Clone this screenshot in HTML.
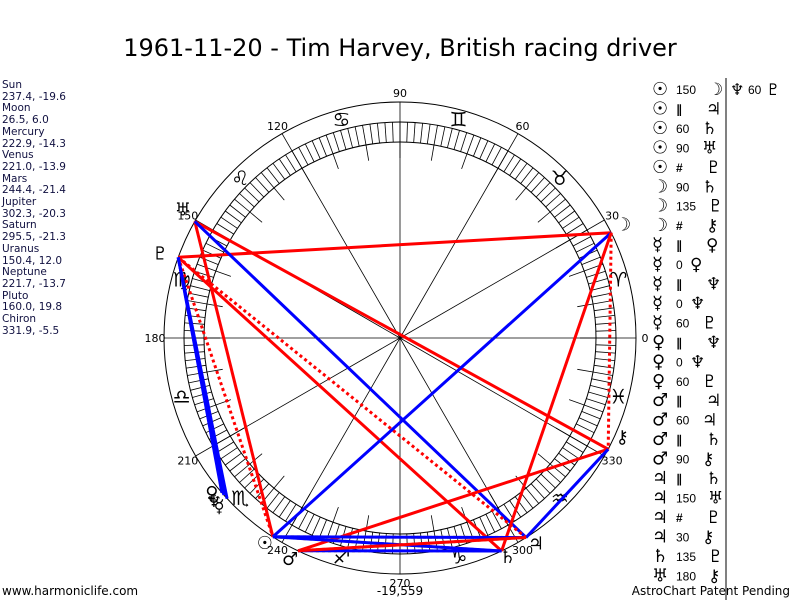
<!DOCTYPE html>
<html><head><meta charset="utf-8">
<style>
body{margin:0;background:#fff;width:800px;height:600px;overflow:hidden;position:relative;font-family:"Liberation Sans","DejaVu Sans",sans-serif}
#left{position:absolute;left:2px;top:80px;font-family:"DejaVu Sans",sans-serif;font-size:10.5px;line-height:11.7px;color:#101040}
</style></head><body>
<svg id="s" width="800" height="600" style="position:absolute;left:0;top:0" xmlns="http://www.w3.org/2000/svg" font-family="Liberation Sans, DejaVu Sans, sans-serif">
<text x="400" y="56" font-size="24" text-anchor="middle" font-family="DejaVu Sans">1961-11-20 - Tim Harvey, British racing driver</text>
<g id="g"></g>
<line x1="726" y1="78" x2="726" y2="600" stroke="#000" stroke-width="1"/>
<text x="2" y="595" font-size="12" font-family="DejaVu Sans">www.harmoniclife.com</text>
<text x="400" y="595" font-size="12" text-anchor="middle" font-family="DejaVu Sans">-19,559</text>
<text x="790" y="595" font-size="12" text-anchor="end" font-family="DejaVu Sans">AstroChart Patent Pending</text>
</svg>
<div id="left">Sun<br>237.4, -19.6<br>Moon<br>26.5, 6.0<br>Mercury<br>222.9, -14.3<br>Venus<br>221.0, -13.9<br>Mars<br>244.4, -21.4<br>Jupiter<br>302.3, -20.3<br>Saturn<br>295.5, -21.3<br>Uranus<br>150.4, 12.0<br>Neptune<br>221.7, -13.7<br>Pluto<br>160.0, 19.8<br>Chiron<br>331.9, -5.5</div>
<script>
var cx=400,cy=338,h='';
function P(a,r){a=a*Math.PI/180;return [cx+r*Math.cos(a),cy-r*Math.sin(a)];}
function L(a,b,c,w,d){h+='<line x1="'+a[0].toFixed(1)+'" y1="'+a[1].toFixed(1)+'" x2="'+b[0].toFixed(1)+'" y2="'+b[1].toFixed(1)+'" stroke="'+c+'" stroke-width="'+w+'"'+(d?' stroke-dasharray="'+d+'"':'')+'/>';}
h+='<circle cx="400" cy="338" r="236" fill="none" stroke="#000"/><circle cx="400" cy="338" r="216" fill="none" stroke="#000"/><circle cx="400" cy="338" r="196" fill="none" stroke="#000"/>';
for(var a=0;a<360;a+=2)L(P(a,196),P(a,216),'#000',0.8);
for(var a=0;a<360;a+=10)L(P(a,180),P(a,196),'#000',0.8);
for(var a=0;a<360;a+=30)L(P(a,0),P(a,236),'#000',0.8);
for(var a=0;a<360;a+=30){var p=P(a,245);h+='<text x="'+p[0]+'" y="'+(p[1]+4)+'" font-size="11" text-anchor="middle" font-family="DejaVu Sans">'+a+'</text>';}
var z='♈♉♊♋♌♍♎♏♐♑♒♓';
for(var i=0;i<12;i++){var p=P(i*30+15,226);h+='<text x="'+p[0]+'" y="'+(p[1]+7)+'" font-size="20" text-anchor="middle" font-family="DejaVu Sans">'+z[i]+'</text>';}
var pl={su:237.4,mo:26.5,me:222.9,ve:221,ma:244.4,ju:302.3,sa:295.5,ur:150.4,ne:221.7,pl:160,ch:331.9};
var Q={};for(var k in pl)Q[k]=P(pl[k],236);
var R='#f00',B='#00f',G='#d4a020';
L(Q.pl,Q.mo,R,3);L(Q.ur,Q.ch,R,3);L(Q.ur,Q.su,R,3);L(Q.ur,Q.ju,B,3);L(Q.pl,Q.sa,R,3);
L(Q.pl,Q.ju,R,3,'3,3');L(Q.pl,Q.su,R,3,'3,3');L(Q.mo,Q.ch,R,3,'3,3');
L(Q.mo,Q.su,B,3);L(Q.mo,Q.sa,R,3);L(Q.ma,Q.ch,R,3);L(Q.ch,Q.ju,B,3);
L(Q.pl,Q.me,B,3);L(Q.pl,Q.ve,B,3);L(Q.pl,Q.ne,B,3);
L(Q.su,Q.ju,G,3,'3,3');L(Q.ma,Q.sa,G,3,'3,3');L(Q.ma,Q.ju,G,3,'3,3');L(Q.su,Q.sa,G,3,'3,3');
L(Q.su,Q.ju,B,3);L(Q.ma,Q.sa,B,3);L(Q.su,Q.sa,B,3);L(Q.ma,Q.ju,R,3);
var gl=[['☉',Q.su,-8,12],['☽',Q.mo,12,-2],['♄',Q.sa,6,12],['♃',Q.ju,10,12],['♂',Q.ma,-8,14],['♅',Q.ur,-12,-6],['♇',Q.pl,-18,2],['⚷',Q.ch,14,-6],['♀',Q.ve,-10,6],['☿',Q.me,-8,14],['♆',Q.ne,-10,12]];
gl.forEach(function(g){h+='<text x="'+(g[1][0]+g[2])+'" y="'+(g[1][1]+g[3])+'" font-size="18" text-anchor="middle" font-family="DejaVu Sans" font-weight="bold">'+g[0]+'</text>';});
var asp=[['☉','150','☽'],['☉','∥','♃'],['☉','60','♄'],['☉','90','♅'],['☉','#','♇'],['☽','90','♄'],['☽','135','♇'],['☽','#','⚷'],['☿','∥','♀'],['☿','0','♀'],['☿','∥','♆'],['☿','0','♆'],['☿','60','♇'],['♀','∥','♆'],['♀','0','♆'],['♀','60','♇'],['♂','∥','♃'],['♂','60','♃'],['♂','∥','♄'],['♂','90','⚷'],['♃','∥','♄'],['♃','150','♅'],['♃','#','♇'],['♃','30','⚷'],['♄','135','♇'],['♅','180','⚷']];
asp.forEach(function(a,i){var y=95+i*19.45;h+='<text x="652" y="'+y+'" font-size="18" font-family="DejaVu Sans" font-weight="bold">'+a[0]+'</text><text x="676" y="'+(y-1)+'" font-size="12"'+(a[1]=='∥'||a[1]=='#'?' font-weight="bold" font-size="15"':'')+'>'+a[1]+'</text><text x="'+(a[1].length>2?708:a[1].length>1?702:(a[1]=='0'?690:706))+'" y="'+y+'" font-size="17" font-family="DejaVu Sans">'+a[2]+'</text>';});
h+='<text x="730" y="95" font-size="16" font-family="DejaVu Sans">♆</text><text x="748" y="94" font-size="12">60</text><text x="766" y="95" font-size="16" font-family="DejaVu Sans">♇</text>';
document.getElementById('g').innerHTML=h;
</script>
</body></html>
